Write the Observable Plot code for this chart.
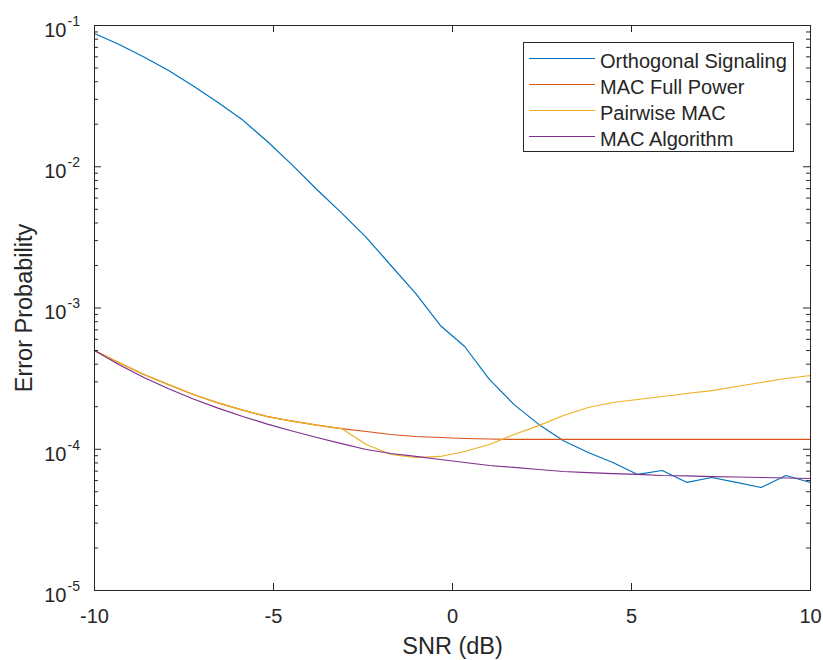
<!DOCTYPE html>
<html><head><meta charset="utf-8">
<script src="https://cdn.jsdelivr.net/npm/d3@7"></script>
<script src="https://cdn.jsdelivr.net/npm/@observablehq/plot@0.6"></script>
<style>
body{margin:0;background:#fff;}
#chart{width:823px;height:660px;}
</style></head><body><div id="chart"></div>
<script>
// SNR grid (dB)
const snr = [-10, -9.31, -8.62, -7.93, -7.24, -6.55, -5.86, -5.17, -4.48, -3.79,
  -3.10, -2.41, -1.72, -1.03, -0.34, 0.34, 1.03, 1.72, 2.41, 3.10,
  3.79, 4.48, 5.17, 5.86, 6.55, 7.24, 7.93, 8.62, 9.31, 10];

const orthogonal = [0.0878, 0.0734, 0.0598, 0.0480, 0.0373, 0.0285, 0.0214, 0.0151, 0.0103, 0.0069,
  0.00471, 0.00316, 0.00200, 0.00127, 0.000752, 0.000534, 0.000312, 0.000207, 0.000150, 0.000115,
  0.0000948, 0.0000806, 0.0000663, 0.0000707, 0.0000582, 0.0000631, 0.0000582, 0.0000536, 0.0000652, 0.0000582];

const macFullPower = [0.000500, 0.000409, 0.000338, 0.000287, 0.000244, 0.000213, 0.000189, 0.000170, 0.000158, 0.000148,
  0.000140, 0.0001335, 0.0001272, 0.0001231, 0.0001211, 0.0001192, 0.0001182, 0.0001173, 0.0001173, 0.0001173,
  0.0001173, 0.0001173, 0.0001173, 0.0001173, 0.0001173, 0.0001173, 0.0001173, 0.0001173, 0.0001173, 0.0001173];

const pairwiseMac = [0.000500, 0.000409, 0.000338, 0.000287, 0.000244, 0.000213, 0.000189, 0.000170, 0.000158, 0.000148,
  0.000140, 0.000108, 0.0000918, 0.0000874, 0.0000889, 0.0000964, 0.000108, 0.0001272, 0.000147, 0.0001733,
  0.0001975, 0.0002143, 0.000225, 0.0002363, 0.0002481, 0.0002604, 0.0002781, 0.000297, 0.000317, 0.0003327];

const macAlgorithm = [0.000500, 0.000396, 0.000322, 0.000268, 0.000227, 0.0001954, 0.0001706, 0.0001507, 0.0001346, 0.0001211,
  0.0001096, 0.0000996, 0.0000933, 0.0000889, 0.0000846, 0.0000806, 0.0000767, 0.0000743, 0.0000719, 0.0000696,
  0.0000684, 0.0000673, 0.0000663, 0.0000652, 0.0000647, 0.0000641, 0.0000636, 0.0000631, 0.0000626, 0.0000621];

const seriesNames = ["Orthogonal Signaling", "MAC Full Power", "Pairwise MAC", "MAC Algorithm"];
const seriesColors = ["#0072BD", "#D95319", "#EDB120", "#7E2F8E"];
const seriesValues = [orthogonal, macFullPower, pairwiseMac, macAlgorithm];

const xTicks = [-10, -5, 0, 5, 10];
const xTickLabels = ["-10", "-5", "0", "5", "10"];
const yTicks = [1e-5, 1e-4, 1e-3, 1e-2, 1e-1];
const yTickExponents = ["-5", "-4", "-3", "-2", "-1"];
const xLabel = "SNR (dB)";
const yLabel = "Error Probability";

const rows = seriesNames.flatMap((s, i) => snr.map((x, j) => ({series: s, snr: x, p: seriesValues[i][j]})));
const yMinor = yTicks.slice(0, -1).flatMap(d => [2,3,4,5,6,7,8,9].map(m => d * m));

const W = 823, H = 660, mL = 94, mR = 13, mT = 25, mB = 70;
const fw = W - mL - mR, fh = H - mT - mB;
const ink = "#262626";
const font = "'Liberation Sans', Arial, Helvetica, sans-serif";

const plot = Plot.plot({
  width: W, height: H,
  marginLeft: mL, marginRight: mR, marginTop: mT, marginBottom: mB,
  style: {fontFamily: font, background: "#fff", color: ink},
  x: {domain: [-10, 10], axis: null},
  y: {type: "log", domain: [1e-5, 1e-1], axis: null},
  color: {domain: seriesNames, range: seriesColors},
  marks: [
    Plot.line(rows, {x: "snr", y: "p", z: "series", stroke: "series", strokeWidth: 1.2}),
    // inward ticks
    Plot.tickX(xTicks, {x: d => d, insetTop: fh - 7, stroke: ink}),
    Plot.tickX(xTicks, {x: d => d, insetBottom: fh - 7, stroke: ink}),
    Plot.tickY(yTicks, {y: d => d, insetRight: fw - 7, stroke: ink}),
    Plot.tickY(yTicks, {y: d => d, insetLeft: fw - 7, stroke: ink}),
    Plot.tickY(yMinor, {y: d => d, insetRight: fw - 4, stroke: ink}),
    Plot.tickY(yMinor, {y: d => d, insetLeft: fw - 4, stroke: ink}),
    Plot.frame({stroke: ink, strokeWidth: 1}),
    // tick labels
    Plot.text(xTicks, {x: d => d, frameAnchor: "bottom", text: (d, i) => xTickLabels[i], dy: 26, lineAnchor: "middle", fontSize: 20, fill: ink}),
    Plot.text(yTicks, {y: d => d, frameAnchor: "left", text: () => "10", textAnchor: "end", dx: -28, dy: 5, lineAnchor: "middle", fontSize: 20, fill: ink}),
    Plot.text(yTicks, {y: d => d, frameAnchor: "left", text: (d, i) => yTickExponents[i], textAnchor: "start", dx: -27, dy: -4, lineAnchor: "middle", fontSize: 14, fill: ink}),
    // axis labels
    Plot.text([xLabel], {frameAnchor: "bottom", text: d => d, dy: 56, lineAnchor: "middle", textAnchor: "middle", fontSize: 23.5, fill: ink}),
    Plot.text([yLabel], {frameAnchor: "left", text: d => d, rotate: -90, dx: -70, lineAnchor: "middle", textAnchor: "middle", fontSize: 23.5, fill: ink})
  ]
});
document.getElementById("chart").appendChild(plot);

// legend inside the axes (north-east)
const svg = d3.select(plot);
const lg = svg.append("g").attr("font-family", font).attr("text-anchor", "start");
lg.append("rect").attr("x", 523.5).attr("y", 42.5).attr("width", 270).attr("height", 109)
  .attr("fill", "#fff").attr("stroke", ink).attr("stroke-width", 1);
seriesNames.forEach((name, i) => {
  const y = 58.5 + i * 26;
  lg.append("line").attr("x1", 529).attr("x2", 595).attr("y1", y).attr("y2", y)
    .attr("stroke", seriesColors[i]).attr("stroke-width", 1.2);
  lg.append("text").attr("x", 600).attr("y", y + 9.4).attr("font-size", 20)
    .attr("text-anchor", "start").attr("fill", ink).text(name);
});
</script></body></html>
